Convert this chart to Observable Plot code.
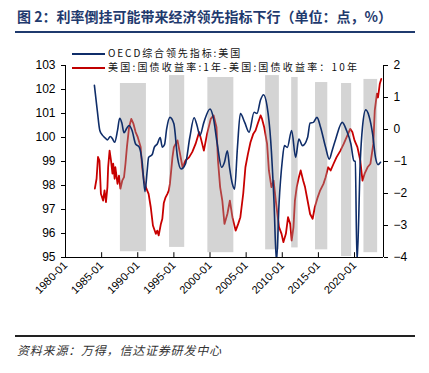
<!DOCTYPE html>
<html><head><meta charset="utf-8">
<script src="https://cdn.jsdelivr.net/npm/d3@7"></script>
<script src="https://cdn.jsdelivr.net/npm/@observablehq/plot@0.6"></script>
<style>
body{margin:0;background:#fff;}
#wrap{position:relative;width:429px;height:373px;overflow:hidden;font-family:"Noto Sans CJK SC",sans-serif;}
#chart{position:absolute;left:0;top:0;}
#title{position:absolute;left:17px;top:6px;font-size:14px;font-weight:bold;color:#1f3a6e;white-space:nowrap;line-height:20px;}
#tline{position:absolute;left:15px;top:31px;width:400px;height:2px;background:#1f3a6e;}
.leg{position:absolute;left:72px;font-size:10px;line-height:12px;height:12px;white-space:nowrap;color:#111;letter-spacing:1.9px;}
.leg i{display:inline-block;width:33px;height:2px;vertical-align:middle;margin-right:3px;}
#cline{position:absolute;left:15px;top:335px;width:400px;height:2px;background:#222;}
#cap{position:absolute;left:17px;top:342px;font-size:12px;font-style:italic;letter-spacing:0.8px;color:#333;line-height:16px;white-space:nowrap;}
</style></head>
<body>
<div id="wrap">
  <div id="chart"></div>
  <div id="title">图 2：利率倒挂可能带来经济领先指标下行（单位：点，%）</div>
  <div id="tline"></div>
  <div class="leg" style="top:46.5px"><i style="background:#0f2d69"></i>OECD综合领先指标:美国</div>
  <div class="leg" style="top:61px;letter-spacing:2.2px"><i style="background:#c00000"></i>美国:国债收益率:1年-美国:国债收益率：10年</div>
  <div id="cline"></div>
  <div id="cap">资料来源：万得，信达证券研发中心</div>
</div>
<script>
// OECD composite leading indicator: US (left axis, points)
const oecdYears = [1984.0,1984.4,1984.75,1985.1,1985.5,1985.8,1986.2,1986.5,1986.8,1987.2,1987.5,1987.8,1988.1,1988.5,1988.8,1989.2,1989.7,1990.2,1990.6,1991.0,1991.3,1991.5,1992.0,1992.3,1992.7,1993.1,1993.4,1993.7,1994.0,1994.45,1995.0,1995.5,1996.0,1996.6,1997.2,1997.8,1998.2,1998.6,1999.15,2000.0,2000.45,2001.0,2001.6,2002.0,2002.4,2002.7,2003.1,2003.4,2003.8,2004.2,2004.8,2005.4,2006.1,2006.5,2007.0,2007.4,2007.9,2008.4,2008.85,2009.2,2009.55,2010.0,2010.3,2010.7,2011.3,2011.85,2012.3,2012.8,2013.5,2013.85,2014.3,2014.8,2015.3,2016.0,2016.5,2016.9,2017.4,2018.3,2018.9,2019.5,2019.9,2020.1,2020.35,2020.8,2021.1,2021.55,2022.0,2022.5,2022.9,2023.25,2023.6];
const oecdValues = [102.17,101.12,100.29,100.1,99.98,99.9,100.04,99.95,99.8,100.3,100.8,100.6,100.2,100.4,100.5,100.3,99.73,99.6,99.0,97.75,98.6,99.17,99.29,99.6,99.73,100.0,99.6,99.7,100.36,100.84,100.57,99.17,98.69,98.9,100.0,100.82,100.5,100.08,100.63,101.19,100.84,99.73,98.76,98.97,99.45,98.76,98.06,97.85,99.6,101.0,100.63,100.22,101.05,101.0,101.57,101.78,101.3,99.87,97.37,94.8,97.23,99.03,99.66,99.59,100.29,99.17,99.94,99.66,100.0,100.6,100.63,100.84,100.43,99.59,99.1,99.45,99.94,100.63,100.29,99.73,99.03,99.0,94.8,99.03,100.43,101.15,100.9,100.15,99.17,98.87,98.97];

// US treasury yield 1Y - 10Y (right axis, %)
const spreadYears = [1984.06,1984.3,1984.5,1984.7,1984.9,1985.2,1985.4,1985.6,1985.8,1985.9,1986.1,1986.3,1986.5,1986.6,1986.8,1986.9,1987.2,1987.4,1987.6,1987.85,1988.1,1988.3,1988.5,1988.8,1989.1,1989.4,1989.7,1990.0,1990.4,1990.6,1990.85,1991.2,1991.5,1991.8,1992.1,1992.5,1992.7,1992.9,1993.2,1993.4,1993.6,1993.85,1994.1,1994.3,1994.45,1994.8,1995.0,1995.5,1995.8,1996.2,1996.6,1997.1,1997.55,1998.0,1998.5,1998.8,1999.15,1999.6,2000.1,2000.5,2000.9,2001.1,2001.4,2001.7,2002.0,2002.4,2002.75,2003.1,2003.55,2003.9,2004.2,2004.6,2004.9,2005.25,2005.6,2006.0,2006.3,2006.6,2007.0,2007.2,2007.5,2007.9,2008.15,2008.5,2008.8,2009.1,2009.55,2009.9,2010.15,2010.5,2010.8,2011.1,2011.3,2011.55,2011.75,2012.0,2012.3,2012.55,2012.9,2013.15,2013.5,2013.85,2014.2,2014.5,2014.9,2015.25,2015.7,2016.0,2016.35,2016.7,2017.1,2017.5,2018.05,2018.5,2019.0,2019.4,2019.7,2020.0,2020.4,2020.8,2021.1,2021.4,2021.8,2022.2,2022.6,2022.8,2023.1,2023.25,2023.5,2023.7];
const spreadValues = [-1.85,-1.54,-0.86,-0.97,-2.01,-2.22,-1.9,-2.27,-1.8,-1.18,-0.66,-0.97,-1.38,-1.07,-1.54,-1.18,-1.7,-1.44,-1.85,-1.6,-1.49,-1.07,-0.55,0.07,0.33,0.18,-0.08,-0.24,-0.55,-1.18,-1.6,-1.85,-2.01,-2.43,-3.0,-3.26,-3.16,-3.31,-2.95,-2.79,-2.3,-2.12,-2.01,-1.9,-1.7,-0.87,-0.55,-0.34,-0.7,-1.18,-0.97,-0.87,-0.7,-0.45,-0.08,-0.34,-0.66,-0.13,0.33,0.44,0.07,-0.97,-1.8,-2.22,-2.95,-2.64,-2.22,-2.74,-3.16,-2.95,-2.74,-2.0,-1.18,-0.76,-0.4,-0.13,-0.03,0.18,0.44,0.33,0.07,-0.45,-1.28,-1.8,-1.6,-2.22,-3.05,-3.26,-3.52,-3.26,-2.74,-2.95,-3.47,-3.05,-2.22,-1.8,-1.49,-1.28,-1.6,-1.8,-2.22,-2.64,-2.79,-2.43,-2.12,-1.9,-1.7,-1.49,-1.18,-1.28,-1.07,-0.87,-0.66,-0.45,-0.19,0.02,-0.08,-0.34,-0.55,-0.97,-1.6,-1.38,-1.18,-1.07,-0.45,0.6,1.12,1.0,1.43,1.58];

// Inversion shading periods (left-axis units for extents)
const shadeStart  = [1987.6,1994.4,1999.7,2007.7,2011.3,2014.6,2018.2,2021.3];
const shadeEnd    = [1991.2,1996.5,2003.3,2009.6,2012.2,2016.3,2019.6,2023.2];
const shadeTop    = [102.25,102.58,102.5,102.58,102.5,102.29,102.25,102.42];
const shadeBottom = [95.24,95.42,95.2,95.32,95.4,95.32,95.04,95.2];

const xTickYears = [1980,1985,1990,1995,2000,2005,2010,2015,2020];
const leftTicks  = [95,96,97,98,99,100,101,102,103];
const rightTicks = [-4,-3,-2,-1,0,1,2];

const toDate = y => { const f = Math.floor(y); return new Date(Date.UTC(f,0,1) + (y - f) * 365.25 * 864e5); };
const R2L = v => 95 + (v + 4) * 8 / 6;
const L2R = v => (v - 95) * 6 / 8 - 4;

const blue = oecdYears.map((y,i) => ({date: toDate(y), v: oecdValues[i]}));
const red = spreadYears.map((y,i) => ({date: toDate(y), v: R2L(spreadValues[i])}));
const bars = shadeStart.map((s,i) => ({x1: toDate(s), x2: toDate(shadeEnd[i]), y1: shadeBottom[i], y2: shadeTop[i]}));
const xTicks = xTickYears.map(y => new Date(Date.UTC(y,0,1)));
const xmin = toDate(1980), xmax = new Date(Date.UTC(2024,0,5));

const chart = Plot.plot({
  width: 429, height: 373,
  marginLeft: 65, marginRight: 46, marginTop: 65, marginBottom: 116,
  style: {fontFamily: "'Liberation Sans', Arial, sans-serif", fontSize: "12px", color: "#000", background: "transparent"},
  x: {type: "utc", domain: [xmin, xmax]},
  y: {domain: [95, 103]},
  marks: [
    Plot.line(red, {x: "date", y: "v", stroke: "#c80000", strokeWidth: 1.8}),
    Plot.rect(bars, {x1: "x1", x2: "x2", y1: "y1", y2: "y2", fill: "#999999", fillOpacity: 0.42}),
    Plot.line(blue, {x: "date", y: "v", stroke: "#0f2d69", strokeWidth: 1.6, curve: "monotone-x", clip: true}),
    Plot.ruleX([xmin], {stroke: "#000"}),
    Plot.ruleX([xmax], {stroke: "#000"}),
    Plot.ruleY([95], {stroke: "#000"}),
    Plot.ruleX(xTicks, {y1: 95, y2: 95.2, stroke: "#000"}),
    Plot.axisY({anchor: "left", ticks: leftTicks, tickFormat: d => String(d), tickSize: 4, tickPadding: 6, label: null, fontSize: 12}),
    Plot.axisY({anchor: "right", ticks: rightTicks.map(R2L), tickFormat: d => { const r = Math.round(L2R(d)); return r < 0 ? "\u2212" + (-r) : String(r); }, tickSize: 4, tickPadding: 6, label: null, fontSize: 12}),
    Plot.axisX({ticks: xTicks, tickFormat: d3.utcFormat("%Y-%m"), tickRotate: -45, tickSize: 0, tickPadding: 6, label: null, fontSize: 11})
  ]
});
document.getElementById("chart").appendChild(chart);
</script>
</body></html>
